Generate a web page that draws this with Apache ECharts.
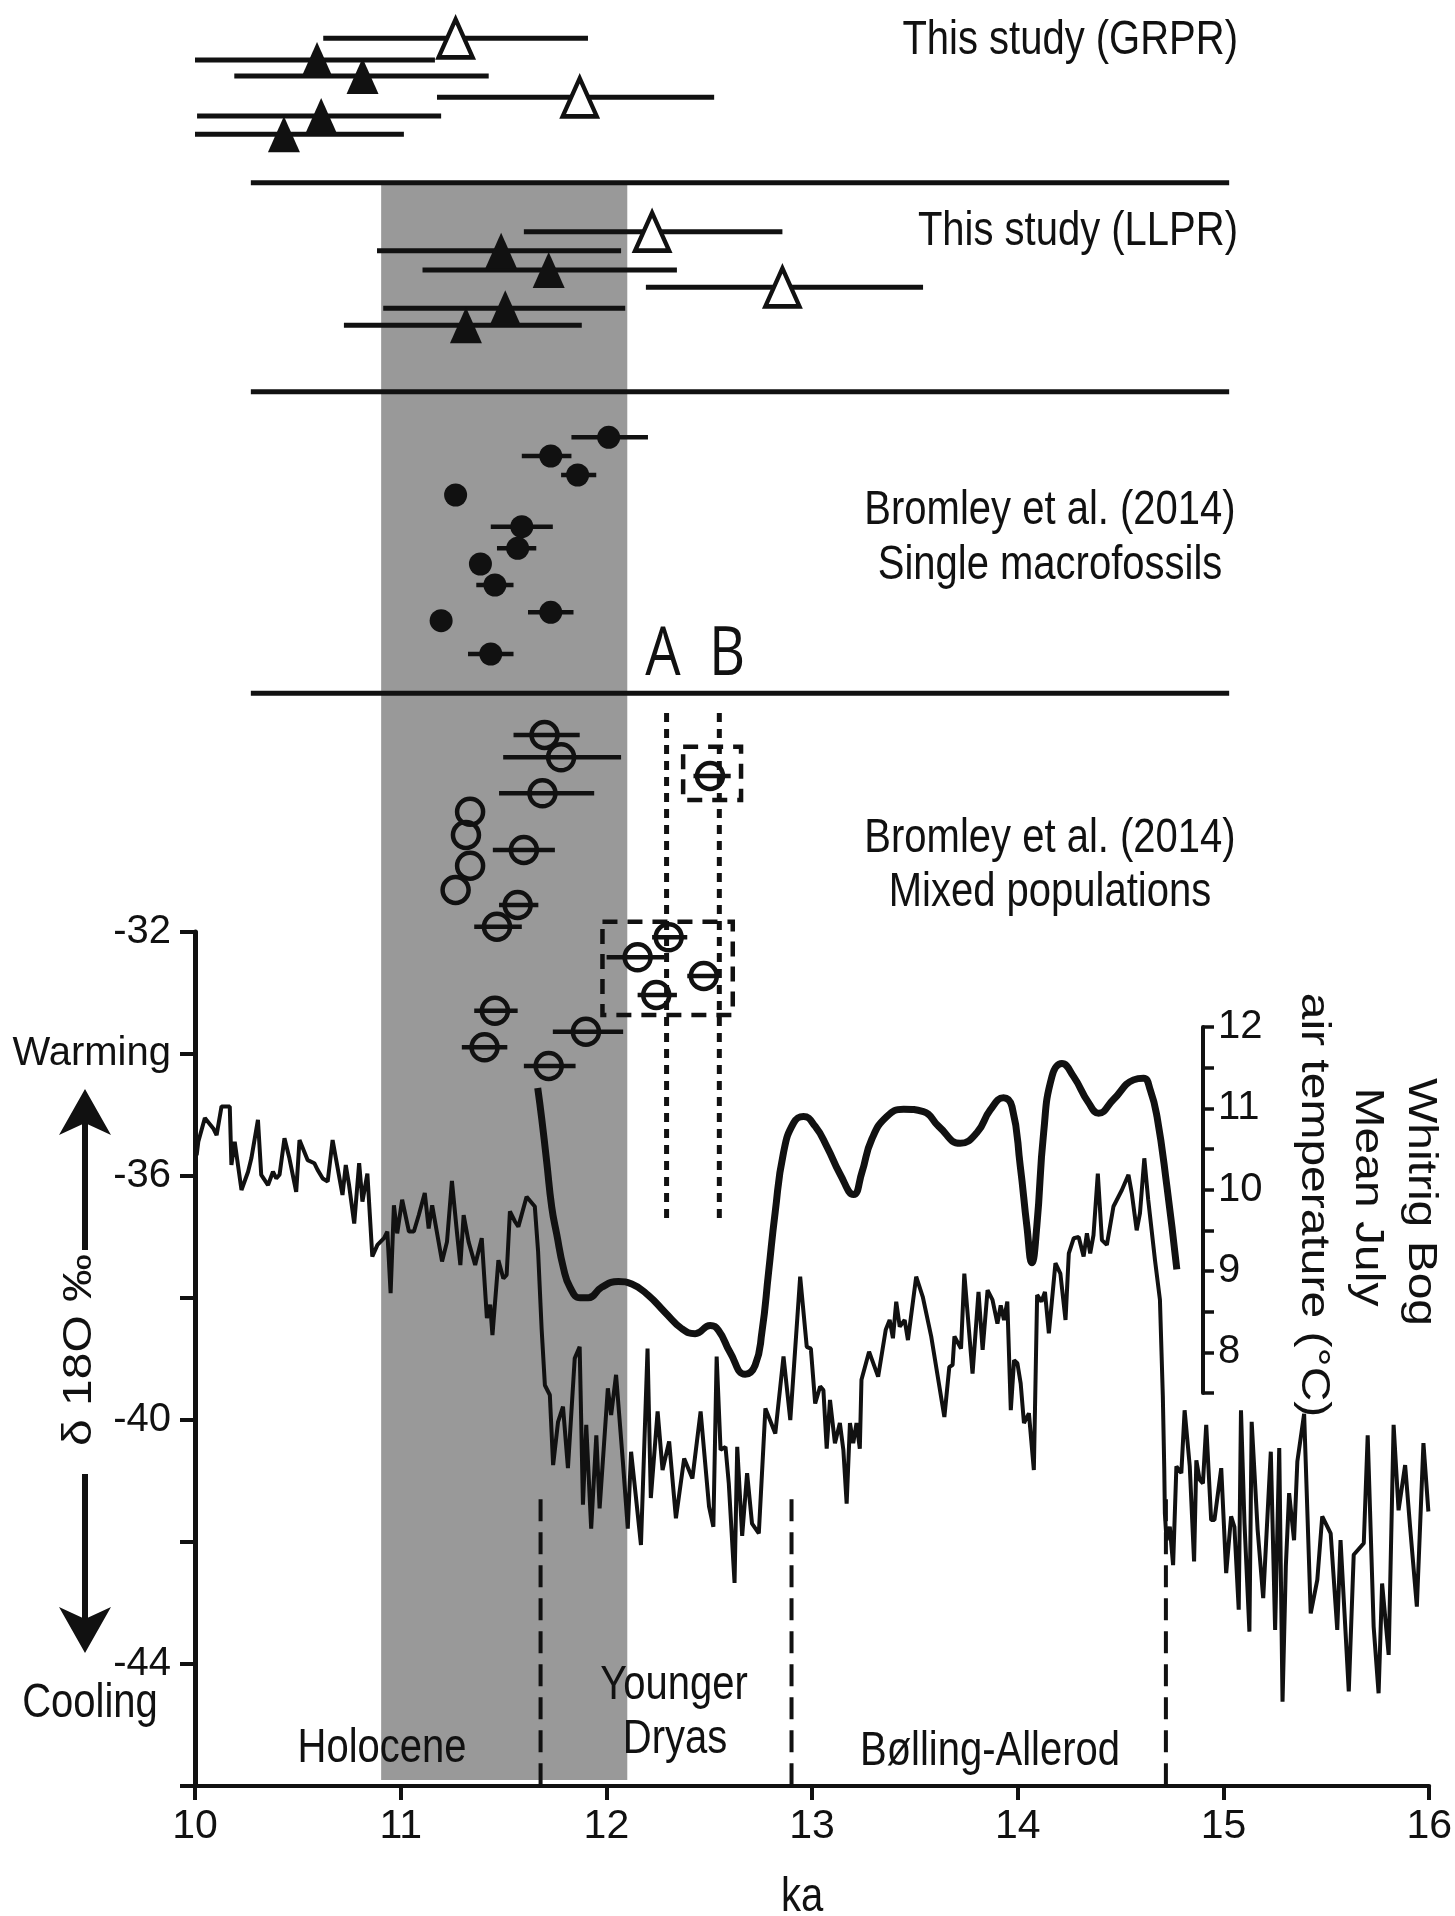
<!DOCTYPE html>
<html>
<head>
<meta charset="utf-8">
<title>Whitrig Bog / d18O</title>
<script src="https://cdn.jsdelivr.net/npm/echarts@6/dist/echarts.min.js"></script>
<style>
  html, body { margin: 0; padding: 0; background: #fff; }
  #chart { width: 1455px; height: 1916px; }
</style>
</head>
<body>
<div id="chart"></div>
<script>
// ---- δ18O record (ka, ‰) ----
var isoAge = [10.008,10.016,10.048,10.089,10.105,10.129,10.169,10.177,10.193,10.226,10.258,10.274,10.306,10.322,10.355,10.379,10.395,10.411,10.435,10.459,
  10.492,10.508,10.548,10.580,10.596,10.621,10.645,10.669,10.685,10.717,10.733,10.749,10.774,10.798,10.814,10.838,10.862,10.887,10.919,10.935,
  10.951,10.967,10.983,11.007,11.040,11.064,11.088,11.117,11.136,11.153,11.201,11.225,11.249,11.273,11.290,11.306,11.330,11.362,11.394,11.419,
  11.435,11.446,11.475,11.499,11.515,11.531,11.556,11.572,11.612,11.652,11.668,11.685,11.701,11.725,11.741,11.765,11.789,11.813,11.846,11.870,
  11.886,11.902,11.926,11.951,11.967,12.007,12.023,12.047,12.080,12.104,12.120,12.144,12.168,12.200,12.216,12.249,12.273,12.305,12.338,12.378,
  12.418,12.426,12.458,12.499,12.520,12.536,12.555,12.579,12.595,12.623,12.636,12.660,12.684,12.708,12.741,12.773,12.821,12.861,12.894,12.942,
  12.974,12.994,13.015,13.039,13.055,13.071,13.087,13.111,13.135,13.152,13.168,13.184,13.200,13.216,13.232,13.240,13.277,13.321,13.358,13.377,
  13.393,13.409,13.426,13.450,13.466,13.506,13.538,13.579,13.643,13.667,13.683,13.692,13.724,13.740,13.780,13.809,13.829,13.853,13.877,13.901,
  13.917,13.933,13.949,13.966,13.982,13.998,14.014,14.030,14.054,14.078,14.094,14.115,14.132,14.151,14.183,14.207,14.232,14.248,14.272,14.296,
  14.320,14.336,14.352,14.368,14.389,14.409,14.433,14.465,14.506,14.538,14.554,14.578,14.594,14.615,14.634,14.667,14.691,14.705,14.712,14.715,
  14.723,14.739,14.755,14.771,14.795,14.811,14.836,14.857,14.868,14.884,14.900,14.916,14.940,14.956,14.989,15.013,15.037,15.053,15.074,15.085,
  15.102,15.126,15.137,15.166,15.193,15.230,15.251,15.271,15.287,15.303,15.319,15.343,15.359,15.392,15.424,15.456,15.480,15.521,15.553,15.569,
  15.609,15.633,15.682,15.701,15.730,15.754,15.771,15.803,15.827,15.851,15.883,15.907,15.940,15.972,15.996];
var isoVal = [-35.66,-35.44,-35.05,-35.22,-35.33,-34.86,-34.86,-35.82,-35.44,-36.23,-35.93,-35.71,-35.08,-35.98,-36.15,-35.93,-36.04,-35.98,-35.38,-35.71,
  -36.26,-35.41,-35.74,-35.79,-35.90,-36.04,-36.09,-35.41,-35.71,-36.31,-35.82,-36.15,-36.78,-35.79,-36.42,-35.96,-37.32,-37.13,-37.02,-36.91,
  -37.92,-36.48,-36.94,-36.39,-36.91,-36.91,-36.64,-36.28,-36.86,-36.48,-37.40,-37.08,-36.08,-36.91,-37.46,-36.64,-37.08,-37.46,-37.02,-38.33,
  -38.11,-38.61,-37.38,-37.68,-37.62,-36.58,-36.75,-36.83,-36.34,-36.50,-37.24,-38.50,-39.43,-39.59,-40.74,-40.03,-39.78,-40.79,-38.99,-38.80,
  -41.39,-40.08,-41.78,-40.25,-41.45,-39.48,-39.92,-39.26,-40.68,-41.78,-40.52,-41.28,-42.05,-38.83,-41.28,-39.86,-40.82,-40.35,-41.61,-40.63,
  -40.96,-40.93,-39.86,-41.42,-41.75,-38.96,-40.49,-40.44,-41.04,-42.67,-40.44,-41.90,-40.87,-41.70,-41.86,-39.81,-40.22,-38.96,-40.00,-37.65,
  -38.80,-38.83,-39.73,-39.45,-39.51,-40.47,-39.67,-40.38,-40.05,-40.49,-41.37,-40.05,-40.38,-40.05,-40.47,-39.34,-38.88,-39.29,-38.52,-38.36,
  -38.66,-38.06,-38.47,-38.36,-38.69,-37.65,-37.98,-38.63,-39.95,-39.13,-39.10,-38.63,-38.83,-37.60,-39.24,-37.90,-38.85,-37.87,-38.03,-38.42,
  -38.12,-38.36,-38.06,-39.84,-39.02,-39.07,-39.40,-40.05,-39.89,-40.82,-37.95,-38.06,-37.90,-38.58,-37.43,-37.60,-38.36,-37.27,-37.02,-37.00,
  -37.32,-36.94,-37.27,-36.97,-35.96,-37.05,-37.13,-36.50,-36.23,-35.98,-36.28,-36.89,-36.61,-35.71,-36.39,-37.38,-38.03,-39.60,-40.80,-41.53,
  -41.97,-41.75,-42.38,-40.76,-40.87,-39.84,-40.76,-42.32,-40.66,-40.98,-41.04,-40.08,-41.64,-41.64,-40.79,-42.51,-41.58,-41.75,-43.11,-39.84,
  -41.69,-43.47,-40.03,-41.80,-42.92,-40.52,-43.44,-40.46,-44.62,-42.40,-41.20,-41.97,-40.68,-39.90,-43.17,-42.62,-41.58,-41.86,-43.44,-41.97,
  -44.45,-42.21,-42.02,-40.25,-43.39,-44.48,-42.68,-43.85,-40.08,-41.48,-40.74,-41.75,-43.06,-40.38,-41.50];

// ---- Whitrig Bog mean July air temperature (ka, °C) ----
var tempAge = [11.657,11.676,11.700,11.725,11.749,11.781,11.813,11.862,11.902,11.966,12.047,12.112,12.192,12.273,12.354,12.418,12.491,12.531,12.587,12.660,
  12.708,12.741,12.773,12.805,12.845,12.894,12.942,12.998,13.055,13.119,13.184,13.224,13.272,13.345,13.426,13.522,13.595,13.700,13.780,13.845,
  13.909,13.950,13.990,14.022,14.046,14.070,14.103,14.143,14.191,14.248,14.320,14.369,14.441,14.538,14.586,14.618,14.651,14.699,14.747];
var tempVal = [11.25,10.88,10.35,9.78,9.45,9.04,8.80,8.67,8.67,8.80,8.87,8.84,8.70,8.49,8.29,8.23,8.33,8.27,8.00,7.73,
  7.84,8.25,8.98,9.72,10.45,10.82,10.90,10.78,10.53,10.19,9.94,10.21,10.62,10.90,10.99,10.96,10.78,10.57,10.70,10.98,
  11.13,11.02,10.29,9.55,9.10,9.55,10.70,11.39,11.55,11.39,11.07,10.94,11.11,11.35,11.37,11.23,10.90,10.04,9.02];

// ---- This study (GRPR): age, error-bar ends (ka), row in the stacked panel, open symbol ----
var grprAge  = [11.26, 10.59, 10.81, 11.86, 10.61, 10.43];
var grprLo   = [10.62, 10.00, 10.19, 11.17, 10.01, 10.00];
var grprHi   = [11.90, 11.16, 11.42, 12.51, 11.19, 11.01];
var grprRow  = [3.83, 6.0, 7.6, 9.73, 11.6, 13.43];
var grprOpen = [1, 0, 0, 1, 0, 0];

// ---- This study (LLPR) ----
var llprAge  = [12.21, 11.48, 11.71, 12.84, 11.50, 11.31];
var llprLo   = [11.59, 10.88, 11.10, 12.18, 10.91, 10.72];
var llprHi   = [12.84, 12.06, 12.33, 13.52, 12.08, 11.87];
var llprRow  = [23.17, 25.07, 27.0, 28.73, 30.83, 32.53];
var llprOpen = [1, 0, 0, 1, 0, 0];

// ---- Bromley et al. (2014) single macrofossils ----
var singleAge = [12.00, 11.72, 11.85, 11.26, 11.58, 11.56, 11.38, 11.45, 11.72, 11.19, 11.43];
var singleLo  = [11.82, 11.58, 11.77, 11.26, 11.43, 11.46, 11.38, 11.36, 11.61, 11.19, 11.32];
var singleHi  = [12.19, 11.82, 11.94, 11.26, 11.73, 11.65, 11.38, 11.54, 11.83, 11.19, 11.54];
var singleRow = [43.73, 45.6, 47.5, 49.5, 52.67, 54.83, 56.4, 58.5, 61.23, 62.07, 65.4];

// ---- Bromley et al. (2014) mixed populations ----
var mixedAge = [11.69, 11.77, 11.68, 11.33, 11.31, 11.59, 11.33, 11.26, 11.56, 11.46, 12.29, 12.14, 12.46, 12.23, 11.45, 11.89, 11.40, 11.71, 12.49];
var mixedLo  = [11.54, 11.49, 11.47, 11.33, 11.31, 11.44, 11.33, 11.26, 11.47, 11.35, 12.21, 11.99, 12.38, 12.14, 11.35, 11.73, 11.29, 11.59, 12.41];
var mixedHi  = [11.86, 12.06, 11.93, 11.33, 11.31, 11.74, 11.33, 11.26, 11.66, 11.58, 12.38, 12.27, 12.52, 12.33, 11.56, 12.07, 11.51, 11.84, 12.59];
var mixedRow = [73.5, 75.73, 79.33, 81.17, 83.5, 85.0, 86.57, 89.0, 90.5, 92.67, 93.73, 95.73, 97.6, 99.5, 101.07, 103.17, 104.73, 106.6, 77.6];

// groups A and B (dashed boxes) and their ages (dotted lines)
var groupName  = ['A', 'B'];
var groupAge   = [12.28, 12.535];
var groupBoxLo = [11.97, 12.36];
var groupBoxHi = [12.60, 12.64];
var groupBoxTop = [92.17, 74.67];
var groupBoxBot = [101.5, 80.0];

// panel separators (rows) and shaded interval, period boundaries (ka)
var sepRow = [18.27, 39.17, 69.33];
var sepFrom = 10.27, sepTo = 15.0;
var bandFrom = 10.9, bandTo = 12.09;
var boundaryAge = [11.68, 12.9, 14.72];

var INK = '#111111';
var FONT = '"Liberation Sans", Arial, sans-serif';

function zip(a, b) { return a.map(function (v, i) { return [v, b[i]]; }); }
function pick(age, row, flags, want) {
  var out = [];
  age.forEach(function (v, i) { if (flags[i] === want) out.push([v, row[i]]); });
  return out;
}

function errorBars(lo, hi, row, w) {
  return {
    type: 'custom', xAxisIndex: 0, yAxisIndex: 0, z: 3, silent: true,
    data: lo.map(function (v, i) { return [v, hi[i], row[i]]; }),
    encode: { x: [0, 1], y: 2 },
    renderItem: function (params, api) {
      var a = api.coord([api.value(0), api.value(2)]);
      var b = api.coord([api.value(1), api.value(2)]);
      return { type: 'line', shape: { x1: a[0], y1: a[1], x2: b[0], y2: b[1] },
        style: { stroke: INK, lineWidth: w } };
    }
  };
}

function label(text, x, y, opt) {
  opt = opt || {};
  return {
    type: 'text', x: x, y: y, rotation: opt.rotation || 0,
    scaleX: opt.sx || 1, scaleY: opt.sy || 1, z: 20, silent: true,
    style: { text: text, fill: INK, font: (opt.size || 40) + 'px ' + (opt.family || FONT),
      align: opt.align || 'center', verticalAlign: 'middle' }
  };
}

var chart = echarts.init(document.getElementById('chart'));

chart.setOption({
  animation: false,
  backgroundColor: '#fff',
  grid: [
    { left: 195, right: 19, top: 0, height: 1780 },     // stacked age panels
    { left: 195, right: 19, top: 932, height: 854 },    // δ18O
    { left: 195, right: 19, top: 1027, height: 366 }    // temperature
  ],
  xAxis: [
    { gridIndex: 0, type: 'value', min: 10, max: 16, show: false },
    { gridIndex: 1, type: 'value', min: 10, max: 16, interval: 1,
      axisLine: { onZero: false, lineStyle: { color: INK, width: 4 } },
      axisTick: { length: 14, lineStyle: { color: INK, width: 4 } },
      axisLabel: { color: INK, fontSize: 41, fontFamily: FONT, margin: 20 },
      splitLine: { show: false } },
    { gridIndex: 2, type: 'value', min: 10, max: 16, show: false }
  ],
  yAxis: [
    { gridIndex: 0, type: 'value', min: 0, max: 178, inverse: true, show: false },
    { gridIndex: 1, type: 'value', min: -46, max: -32, interval: 2,
      axisLine: { show: true, onZero: false, lineStyle: { color: INK, width: 5 } },
      axisTick: { show: true, length: 15, lineStyle: { color: INK, width: 4 } },
      axisLabel: { color: INK, fontSize: 40, fontFamily: FONT, margin: 24, padding: [0, 0, 22, 0],
        formatter: function (v) {
          if (v === -34) return 'Warming';
          return (v + 32) % 4 === 0 ? String(v) : '';
        } },
      splitLine: { show: false } },
    { gridIndex: 2, type: 'value', position: 'right', offset: -233, min: 7.5, max: 12, interval: 0.5,
      axisLine: { show: true, onZero: false, lineStyle: { color: INK, width: 4 } },
      axisTick: { show: true, length: 11, lineStyle: { color: INK, width: 3.5 } },
      axisLabel: { color: INK, fontSize: 40, fontFamily: FONT, margin: 15,
        formatter: function (v) { return v % 1 === 0 ? String(v) : ''; } },
      splitLine: { show: false } }
  ],
  series: [
    // shaded interval
    { type: 'custom', xAxisIndex: 0, yAxisIndex: 0, z: 1, silent: true,
      data: [[bandFrom, bandTo]], encode: { x: [0, 1] },
      renderItem: function (params, api) {
        var a = api.coord([api.value(0), 18.5]);
        var b = api.coord([api.value(1), 178]);
        return { type: 'rect', shape: { x: a[0], y: a[1], width: b[0] - a[0], height: b[1] - a[1] },
          style: { fill: '#999999' } };
      } },
    // panel separators
    { type: 'custom', xAxisIndex: 0, yAxisIndex: 0, z: 3, silent: true,
      data: sepRow.map(function (r) { return [sepFrom, sepTo, r]; }), encode: { x: [0, 1], y: 2 },
      renderItem: function (params, api) {
        var a = api.coord([api.value(0), api.value(2)]);
        var b = api.coord([api.value(1), api.value(2)]);
        return { type: 'line', shape: { x1: a[0], y1: a[1], x2: b[0], y2: b[1] },
          style: { stroke: INK, lineWidth: 5 } };
      } },
    // dotted age lines A, B
    { type: 'custom', xAxisIndex: 0, yAxisIndex: 0, z: 3, silent: true,
      data: groupAge.map(function (v) { return [v, 71.3, 121.8]; }), encode: { x: 0, y: [1, 2] },
      renderItem: function (params, api) {
        var a = api.coord([api.value(0), api.value(1)]);
        var b = api.coord([api.value(0), api.value(2)]);
        return { type: 'line', shape: { x1: a[0], y1: a[1], x2: b[0], y2: b[1] },
          style: { stroke: INK, lineWidth: 5, lineDash: [9, 7] } };
      } },
    // dashed group boxes
    { type: 'custom', xAxisIndex: 0, yAxisIndex: 0, z: 3, silent: true,
      data: groupBoxLo.map(function (v, i) { return [v, groupBoxHi[i], groupBoxTop[i], groupBoxBot[i]]; }),
      encode: { x: [0, 1], y: [2, 3] },
      renderItem: function (params, api) {
        var a = api.coord([api.value(0), api.value(2)]);
        var b = api.coord([api.value(1), api.value(3)]);
        return { type: 'rect', shape: { x: a[0], y: a[1], width: b[0] - a[0], height: b[1] - a[1] },
          style: { fill: 'none', stroke: INK, lineWidth: 4.5, lineDash: [15, 10] } };
      } },
    errorBars(grprLo, grprHi, grprRow, 5),
    errorBars(llprLo, llprHi, llprRow, 5),
    errorBars(singleLo, singleHi, singleRow, 4.5),
    errorBars(mixedLo, mixedHi, mixedRow, 4.5),
    { type: 'scatter', xAxisIndex: 0, yAxisIndex: 0, z: 4, silent: true, symbol: 'triangle',
      symbolSize: [32, 36], itemStyle: { color: INK, opacity: 1 },
      data: pick(grprAge, grprRow, grprOpen, 0).concat(pick(llprAge, llprRow, llprOpen, 0)) },
    { type: 'scatter', xAxisIndex: 0, yAxisIndex: 0, z: 4, silent: true, symbol: 'triangle',
      symbolSize: [34, 38], itemStyle: { color: '#fff', borderColor: INK, borderWidth: 4.5, opacity: 1 },
      data: pick(grprAge, grprRow, grprOpen, 1).concat(pick(llprAge, llprRow, llprOpen, 1)) },
    { type: 'scatter', xAxisIndex: 0, yAxisIndex: 0, z: 4, silent: true, symbol: 'circle',
      symbolSize: 23, itemStyle: { color: INK, opacity: 1 }, data: zip(singleAge, singleRow) },
    { type: 'scatter', xAxisIndex: 0, yAxisIndex: 0, z: 4, silent: true, symbol: 'circle',
      symbolSize: 26, itemStyle: { color: 'rgba(0,0,0,0)', borderColor: INK, borderWidth: 4.5, opacity: 1 },
      data: zip(mixedAge, mixedRow) },
    // period boundaries
    { type: 'custom', xAxisIndex: 1, yAxisIndex: 1, z: 3, silent: true,
      data: boundaryAge.map(function (v) { return [v, -41.3, -46]; }), encode: { x: 0, y: [1, 2] },
      renderItem: function (params, api) {
        var a = api.coord([api.value(0), api.value(1)]);
        var b = api.coord([api.value(0), api.value(2)]);
        return { type: 'line', shape: { x1: a[0], y1: a[1], x2: b[0], y2: b[1] },
          style: { stroke: INK, lineWidth: 4, lineDash: [22, 11] } };
      } },
    // δ18O
    { type: 'line', xAxisIndex: 1, yAxisIndex: 1, z: 5, silent: true, showSymbol: false,
      data: zip(isoAge, isoVal), lineStyle: { color: INK, width: 4 } },
    // temperature
    { type: 'line', xAxisIndex: 2, yAxisIndex: 2, z: 6, silent: true, showSymbol: false, smooth: 0.5,
      data: zip(tempAge, tempVal), lineStyle: { color: INK, width: 7 } }
  ],
  graphic: [
    label('This study (GRPR)', 1238, 41, { align: 'right', sy: 1.2 }),
    label('This study (LLPR)', 1238, 232, { align: 'right', sy: 1.2 }),
    label('Bromley et al. (2014)', 1050, 511, { sy: 1.2 }),
    label('Single macrofossils', 1050, 566, { sy: 1.2 }),
    label('Bromley et al. (2014)', 1050, 839, { sy: 1.2 }),
    label('Mixed populations', 1050, 893, { sy: 1.2 }),
    label(groupName[0], 663, 656, { size: 56, sy: 1.2, family: '"Open Sans", sans-serif' }),
    label(groupName[1], 727, 656, { size: 56, sy: 1.2, family: '"Open Sans", sans-serif' }),
    label('Holocene', 382, 1749, { sy: 1.2 }),
    label('Younger', 674, 1686, { sy: 1.2 }),
    label('Dryas', 675, 1740, { sy: 1.2 }),
    label('Bølling-Allerod', 990, 1752, { sy: 1.2 }),
    label('Cooling', 90, 1704, { sy: 1.2 }),
    label('ka', 802, 1898, { sy: 1.2 }),
    label('\u03b4 18O \u2030', 80, 1350, { rotation: Math.PI / 2, sx: 1.2 }),
    label('Whitrig Bog', 1420, 1202, { rotation: -Math.PI / 2, sx: 1.2 }),
    label('Mean July', 1367, 1197, { rotation: -Math.PI / 2, sx: 1.2 }),
    label('air temperature (\u00b0C)', 1313, 1205, { rotation: -Math.PI / 2, sx: 1.2 }),
    { type: 'line', z: 20, silent: true, shape: { x1: 85, y1: 1120, x2: 85, y2: 1250 },
      style: { stroke: INK, lineWidth: 6 } },
    { type: 'polygon', z: 20, silent: true,
      shape: { points: [[85, 1089], [111, 1135], [85, 1123], [59, 1135]] }, style: { fill: INK } },
    { type: 'line', z: 20, silent: true, shape: { x1: 85, y1: 1474, x2: 85, y2: 1622 },
      style: { stroke: INK, lineWidth: 6 } },
    { type: 'polygon', z: 20, silent: true,
      shape: { points: [[85, 1653], [111, 1607], [85, 1619], [59, 1607]] }, style: { fill: INK } }
  ]
});
</script>
</body>
</html>
